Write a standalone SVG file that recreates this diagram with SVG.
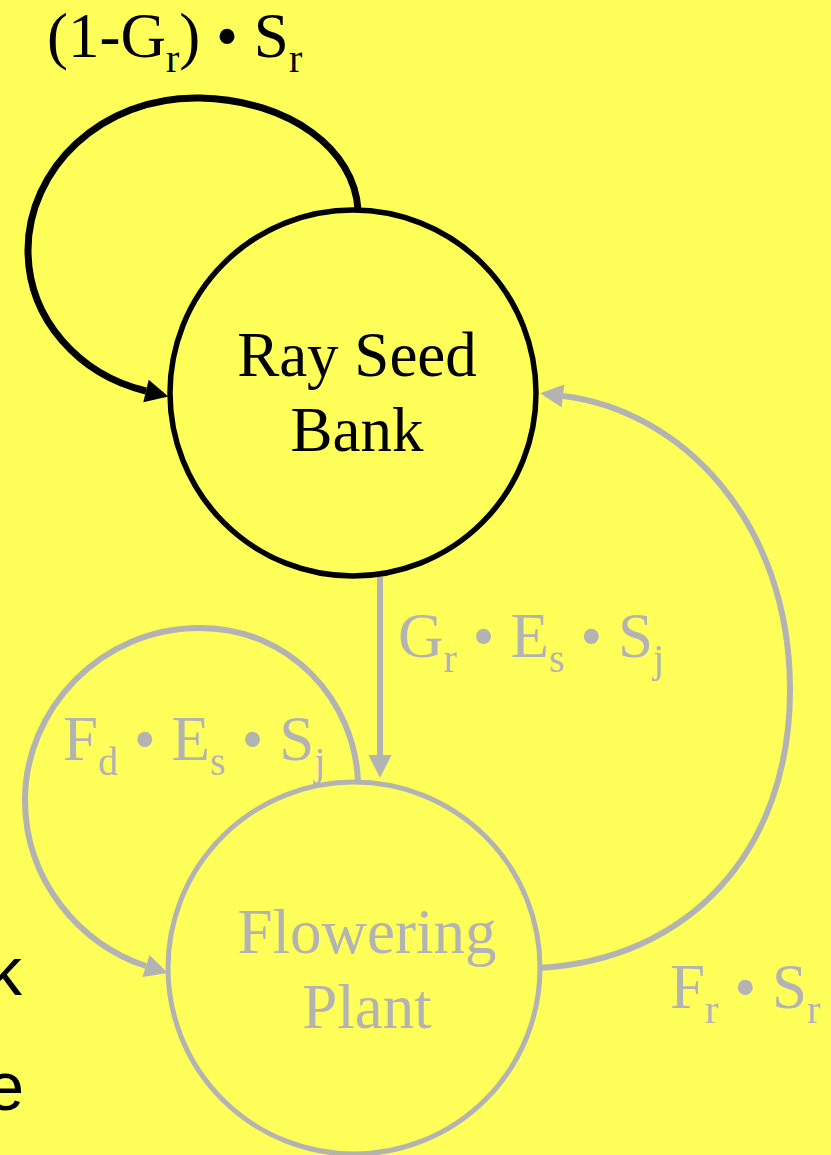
<svg xmlns="http://www.w3.org/2000/svg" width="831" height="1155" viewBox="0 0 831 1155">
<style>
.t{font-family:"Liberation Serif","Times New Roman",serif;font-size:63px}
.sub{font-size:40px}
.blk{fill:#000}
.gry{fill:#B3B3B3}
.edge{fill:none;stroke-linecap:butt}
</style>
<defs>
<marker id="ah-b" markerUnits="userSpaceOnUse" markerWidth="26" markerHeight="26" refX="0" refY="11.5" orient="auto" overflow="visible"><path d="M0,0 L23,11.5 L0,23 z" fill="#000"/></marker>
<marker id="ah-g" markerUnits="userSpaceOnUse" markerWidth="26" markerHeight="26" refX="0" refY="11.5" orient="auto" overflow="visible"><path d="M0,0 L23,11.5 L0,23 z" fill="#B3B3B3"/></marker>
</defs>
<rect width="831" height="1155" fill="#FFFF59"/>
<g id="connectors">
<path class="edge" d="M 358 210 C 355 150, 290 100, 200 98 C 100 96, 28 170, 28 250 C 28 320, 80 375, 146 391" stroke="#000" stroke-width="7" marker-end="url(#ah-b)"/>
<path class="edge" d="M 380 577 L 380 755" stroke="#B3B3B3" stroke-width="6" marker-end="url(#ah-g)"/>
<path class="edge" d="M 358 782 C 355 700, 290 628, 200 628 C 100 628, 25 710, 25 800 C 25 880, 80 945, 146 966" stroke="#B3B3B3" stroke-width="6" marker-end="url(#ah-g)"/>
<path class="edge" d="M 538 968 C 690 960, 790 850, 790 690 C 790 520, 680 410, 563 396" stroke="#B3B3B3" stroke-width="6" marker-end="url(#ah-g)"/>
</g>
<g id="ray-seed-bank">
<circle cx="353" cy="393" r="183" fill="none" stroke="#000" stroke-width="5.5"/>
<text class="t blk" text-anchor="middle" x="357" y="376">Ray Seed</text>
<text class="t blk" text-anchor="middle" x="357" y="451">Bank</text>
</g>
<g id="flowering-plant">
<circle cx="354" cy="968" r="186" fill="none" stroke="#B3B3B3" stroke-width="5"/>
<text class="t gry" text-anchor="middle" x="367" y="953">Flowering</text>
<text class="t gry" text-anchor="middle" x="367" y="1028">Plant</text>
</g>
<g id="labels">
<text class="t blk" x="47" y="57">(1-G<tspan class="sub" dy="15">r</tspan><tspan dy="-15">) • S</tspan><tspan class="sub" dy="15">r</tspan></text>
<text class="t gry" x="398" y="657">G<tspan class="sub" dy="15">r</tspan><tspan dy="-15"> • E</tspan><tspan class="sub" dy="15">s</tspan><tspan dy="-15"> • S</tspan><tspan class="sub" dy="15">j</tspan></text>
<text class="t gry" x="63" y="760">F<tspan class="sub" dy="15">d</tspan><tspan dy="-15"> • E</tspan><tspan class="sub" dy="15">s</tspan><tspan dy="-15"> • S</tspan><tspan class="sub" dy="15">j</tspan></text>
<text class="t gry" x="670" y="1008">F<tspan class="sub" dy="15">r</tspan><tspan dy="-15"> • S</tspan><tspan class="sub" dy="15">r</tspan></text>
</g>
<g id="cut-text">
<text font-family="'Liberation Sans',Arial,sans-serif" font-size="68" fill="#000" text-anchor="end" x="22" y="995">k</text>
<text font-family="'Liberation Sans',Arial,sans-serif" font-size="68" fill="#000" text-anchor="end" x="24" y="1110">e</text>
</g>
</svg>
